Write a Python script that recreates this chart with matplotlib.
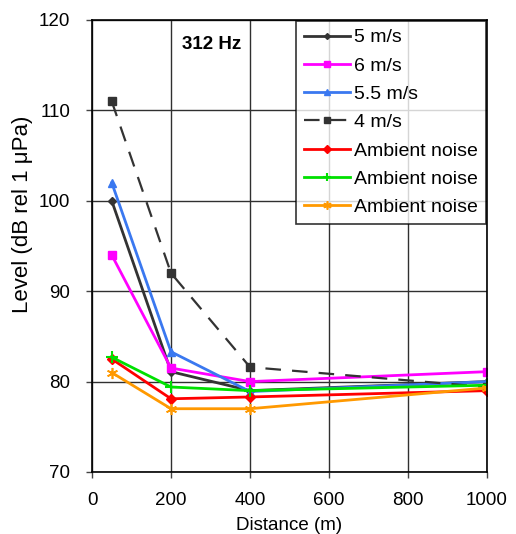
import matplotlib
matplotlib.use("Agg")
import matplotlib.pyplot as plt

plt.rcParams['font.family'] = ['Liberation Sans', 'DejaVu Sans']

distance = [50, 200, 400, 1000]
s5 = [100, 81.1, 79.0, 80.0]
s6 = [94, 81.5, 80.0, 81.1]
s55 = [102, 83.3, 78.9, 80.0]
s4 = [111, 92.0, 81.6, 79.4]
amb_red = [82.5, 78.1, 78.3, 79.0]
amb_green = [82.7, 79.4, 79.0, 79.6]
amb_orange = [81.0, 77.0, 77.0, 79.3]

fig = plt.figure(figsize=(5.16, 5.34), dpi=100)
ax = fig.add_axes([92/516, 1-472/534, (487-92)/516, (472-20)/534])

ax.plot(distance, s5, color='#333333', marker='D', markersize=4, lw=2, label='5 m/s')
ax.plot(distance, s6, color='#ff00ff', marker='s', markersize=6, lw=2, label='6 m/s')
ax.plot(distance, s55, color='#3a78f0', marker='^', markersize=6, lw=2, label='5.5 m/s')
ax.plot(distance, s4, color='#333333', marker='s', markersize=6, lw=1.6, ls=(0, (7, 5)), label='4 m/s')
ax.plot(distance, amb_red, color='#ff0000', marker='D', markersize=5, lw=2, label='Ambient noise')
ax.plot(distance, amb_green, color='#00e000', marker='+', markersize=8, mew=1.5, lw=2, label='Ambient noise')
ax.plot(distance, amb_orange, color='#ff9900', marker=(6, 2, 0), markersize=8, mew=1.2, lw=2, label='Ambient noise')

ax.set_xlim(0, 1000)
ax.set_ylim(70, 120)
ax.set_xticks([0, 200, 400, 600, 800, 1000])
ax.set_yticks([70, 80, 90, 100, 110, 120])
ax.grid(True, color='#303030', lw=1)
ax.set_axisbelow(True)
for s in ax.spines.values():
    s.set_color('black')
    s.set_linewidth(1.2)
ax.tick_params(labelsize=13.5, direction='out', length=4.5, width=1, color='#444444')
ax.tick_params(axis='x', pad=10)
ax.tick_params(axis='y', pad=11)
ax.set_xlabel('Distance (m)', fontsize=13.5)
ax.xaxis.set_label_coords(0.5, -0.1)
ax.set_ylabel('Level (dB rel 1 μPa)', fontsize=16)
ax.yaxis.set_label_coords(-0.15, 0.57)

ax.text(0.228, 0.965, '312 Hz', transform=ax.transAxes, fontsize=13.5, fontweight='bold', ha='left', va='top')

leg = ax.legend(loc='upper right', fontsize=14, frameon=True, fancybox=False,
                edgecolor='black', handlelength=2.4, handletextpad=0.2, borderpad=0.4,
                labelspacing=0.55, borderaxespad=0.05, markerscale=0.75)
leg.get_frame().set_linewidth(1.2)

fig.savefig('out.png', dpi=100)
